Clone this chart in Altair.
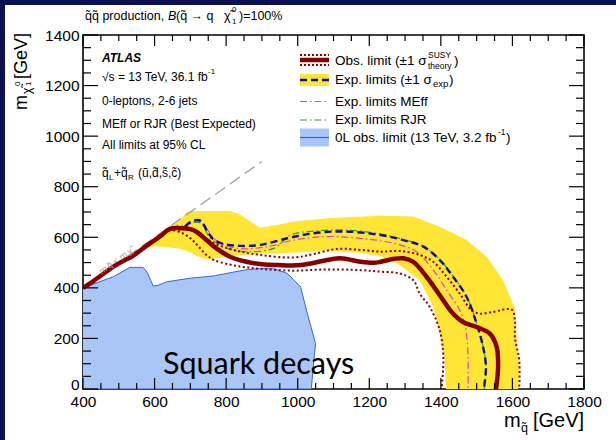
import altair as alt
import pandas as pd

# ---------------- data (m_squark, m_neutralino) in GeV ----------------
diag_x = [400, 430, 485, 520, 535, 578, 615]
diag_y = [400, 428, 484, 512, 522, 567, 603]

obs_x = [643, 672, 700, 719, 745, 773, 811, 857, 900, 943, 1008, 1083, 1120, 1176,
         1213, 1232, 1270, 1295, 1323, 1360, 1397, 1430, 1462, 1500, 1537, 1556, 1560, 1554]
obs_y = [633, 636, 632, 620, 589, 556, 523, 503, 493, 490, 490, 510, 517, 503,
         499, 503, 515, 517, 503, 444, 371, 305, 265, 245, 219, 166, 86, 0]

obs_up_x = [643, 680, 700, 728, 766, 821, 896, 989, 1045, 1110, 1176, 1232, 1285, 1341,
            1379, 1416, 1453, 1486, 1509, 1546, 1598, 1607, 1607, 1619, 1619]
obs_up_y = [636, 642, 636, 609, 576, 550, 530, 520, 534, 554, 550, 543, 546, 530,
            503, 444, 377, 311, 298, 305, 314, 272, 205, 113, 0]

obs_dn_x = [643, 672, 700, 719, 745, 766, 811, 850, 896, 989, 1083, 1176, 1232, 1285,
            1323, 1341, 1369, 1397, 1407, 1402]
obs_dn_y = [628, 620, 596, 570, 530, 510, 492, 482, 475, 468, 473, 470, 464, 457,
            430, 377, 324, 232, 126, 0]

exp_x = [643, 680, 700, 715, 730, 745, 764, 792, 840, 896, 971, 1045, 1129, 1232,
         1295, 1351, 1397, 1434, 1472, 1500, 1518, 1526, 1520]
exp_y = [636, 640, 660, 668, 664, 630, 592, 574, 566, 570, 596, 616, 623, 609,
         589, 563, 510, 444, 364, 258, 166, 86, 0]

meff_x = [643, 680, 700, 715, 730, 747, 775, 831, 915, 989, 1083, 1176, 1232, 1285,
          1332, 1379, 1416, 1453, 1470, 1476, 1476]
meff_y = [636, 640, 655, 663, 660, 630, 585, 556, 563, 589, 603, 596, 586, 570,
          543, 470, 391, 311, 232, 126, 0]

rjr_x = [643, 680, 700, 715, 730, 756, 803, 859, 933, 980, 1036, 1129, 1232, 1295,
         1351, 1397, 1434, 1472, 1500, 1518, 1526, 1521]
rjr_y = [636, 640, 655, 660, 655, 596, 556, 543, 556, 609, 623, 629, 613, 591,
         565, 512, 446, 366, 260, 168, 88, 0]

band_up_x = [560, 600, 640, 651, 670, 690, 708, 811, 838, 870, 894, 940, 989, 1083,
             1232, 1323, 1397, 1472, 1528, 1574, 1607, 1612, 1619, 1616]
band_up_y = [555, 598, 640, 648, 665, 700, 704, 704, 690, 660, 638, 648, 662, 675,
             685, 682, 642, 589, 523, 430, 318, 192, 86, 0]
band_dn_x = [1414, 1411, 1397, 1379, 1341, 1285, 1232, 1176, 1083, 1000, 900, 830,
             780, 745, 720, 700, 671, 643, 600, 560]
band_dn_y = [0, 113, 219, 324, 430, 490, 525, 538, 548, 540, 535, 528,
             518, 512, 525, 540, 555, 560, 565, 550]

old_x = [400, 485, 531, 568, 580, 596, 610, 634, 699, 764, 849, 894, 933, 971,
         1008, 1027, 1050, 1045, 1038, 400]
old_y = [400, 444, 481, 481, 460, 407, 410, 424, 438, 447, 470, 477, 477, 457,
         404, 298, 179, 113, 0, 0]

kin_x = [400, 900]
kin_y = [400, 900]

x_ticks_major = list(range(400, 1801, 200))
x_ticks_minor = [v for v in range(400, 1801, 50) if v % 200]
y_ticks_major = list(range(0, 1401, 200))
y_ticks_minor = [v for v in range(0, 1401, 50) if v % 200]

# ---------------- styling ----------------
FONT = "Liberation Sans"
W, H = 501, 354
NAVY = "#0c1050"
YELLOW = "#ffe535"
DARKRED = "#870000"
BLUE = "#10109a"
MAGENTA = "#e03ce0"
GREEN = "#2e9e2e"
LBLUE = "#aac6f6"
EDGEBLUE = "#3566d6"

xs = alt.Scale(domain=[400, 1800], nice=False, zero=False)
ys = alt.Scale(domain=[0, 1400], nice=False, zero=False)
AX_X = alt.Axis(values=x_ticks_major, format="d", ticks=False, domain=False, grid=False,
                labelFont=FONT, labelFontSize=15.5, labelColor="black",
                labelPadding=5, labelFlush=False, labelOverlap=False)
AX_Y = alt.Axis(values=y_ticks_major, format="d", ticks=False, domain=False, grid=False,
                labelFont=FONT, labelFontSize=15.5, labelColor="black",
                labelPadding=4, labelOverlap=False,
                labelOffset={"condition": {"test": "datum.value === 0", "value": -5},
                             "value": 0})


def X(field):
    return alt.X(field, scale=xs, title=None, axis=AX_X)


def Y(field):
    return alt.Y(field, scale=ys, title=None, axis=AX_Y)


def frame(xv, yv):
    return pd.DataFrame({"x": xv, "y": yv, "i": range(len(xv))})


def path(df, interp="catmull-rom", **mark):
    return alt.Chart(df).mark_line(interpolate=interp, clip=True, **mark).encode(
        x=X("x:Q"), y=Y("y:Q"), order="i:Q")


band = path(frame(band_up_x + band_dn_x, band_up_y + band_dn_y), interp="linear",
            fill=YELLOW, strokeOpacity=0)
old = path(frame(old_x, old_y), interp="linear", fill=LBLUE, stroke=EDGEBLUE,
           strokeWidth=1)
kin = path(frame(kin_x, kin_y), interp="linear", color="#9a9a9a",
           strokeWidth=1.2, strokeDash=[12, 6])
meff = path(frame(diag_x + meff_x, diag_y + meff_y), color=MAGENTA,
            strokeWidth=1.2, strokeDash=[7, 3, 1.5, 3])
rjr = path(frame(diag_x + rjr_x, diag_y + rjr_y), color=GREEN,
           strokeWidth=1.2, strokeDash=[7, 3, 1.5, 3])
expl = path(frame(diag_x + exp_x, diag_y + exp_y), color=BLUE,
            strokeWidth=2.4, strokeDash=[7, 4])
obs_up = path(frame(diag_x + obs_up_x, diag_y + obs_up_y), color=DARKRED,
              strokeWidth=2, strokeDash=[2, 2.5])
obs_dn = path(frame(diag_x + obs_dn_x, diag_y + obs_dn_y), color=DARKRED,
              strokeWidth=2, strokeDash=[2, 2.5])
obs = path(frame(diag_x + obs_x, diag_y + obs_y), color=DARKRED, strokeWidth=4.5)


# ---------------- inward tick marks on all four sides ----------------
def xticks(vals, length):
    d = pd.DataFrame({"v": vals})
    b = alt.Chart(d).mark_rule(color="black", strokeWidth=1.2).encode(
        x=X("v:Q"), y=alt.value(H), y2=alt.value(H - length))
    t = alt.Chart(d).mark_rule(color="black", strokeWidth=1.2).encode(
        x=X("v:Q"), y=alt.value(0), y2=alt.value(length))
    return [b, t]


def yticks(vals, length):
    d = pd.DataFrame({"v": vals})
    l = alt.Chart(d).mark_rule(color="black", strokeWidth=1.2).encode(
        y=Y("v:Q"), x=alt.value(0), x2=alt.value(length))
    r = alt.Chart(d).mark_rule(color="black", strokeWidth=1.2).encode(
        y=Y("v:Q"), x=alt.value(W), x2=alt.value(W - length))
    return [l, r]


ticks = (xticks(x_ticks_major, 11) + xticks(x_ticks_minor, 6)
         + yticks(y_ticks_major, 15) + yticks(y_ticks_minor, 8))


# ---------------- text helpers (positions in plot pixels) ----------------
def txt(s, x, y, size=12, color="black", font=FONT, align="left",
        baseline="middle", **kw):
    return alt.Chart(pd.DataFrame({"t": [s]})).mark_text(
        align=align, baseline=baseline, fontSize=size, font=font, color=color, **kw
    ).encode(x=alt.value(x), y=alt.value(y), text="t:N")


def hrule(x1, x2, y, **kw):
    return alt.Chart(pd.DataFrame({"a": [0]})).mark_rule(**kw).encode(
        x=alt.value(x1), x2=alt.value(x2), y=alt.value(y))


def box(x1, x2, y1, y2, color):
    return alt.Chart(pd.DataFrame({"a": [0]})).mark_rect(color=color).encode(
        x=alt.value(x1), x2=alt.value(x2), y=alt.value(y1), y2=alt.value(y2))


texts = [
    # header above the frame
    txt("q\u0303q\u0303 production,", 2, -19, size=12.5),
    txt("B", 85, -19, size=12.5, fontStyle="italic"),
    txt("(q\u0303 \u2192 q", 93, -19, size=12.5),
    txt("\u03c7\u0303", 141, -19, size=12.5),
    txt("0", 149, -25, size=8),
    txt("1", 149, -13, size=8),
    txt(")=100%", 156, -19, size=12.5),
    # analysis labels
    txt("ATLAS", 19, 22.5, fontWeight="bold", fontStyle="italic"),
    txt("\u221as = 13 TeV, 36.1 fb", 19, 41.5),
    txt("-1", 125, 37, size=8),
    txt("0-leptons, 2-6 jets", 19, 66),
    txt("MEff or RJR (Best Expected)", 19, 89),
    txt("All limits at 95% CL", 19, 110),
    txt("q\u0303", 19, 138),
    txt("L", 26, 143, size=8),
    txt("+q\u0303", 31, 138),
    txt("R", 45, 143, size=8),
    txt("(u\u0303,d\u0303,s\u0303,c\u0303)", 55, 138),
    txt("m\u2009q\u0303 < m\u2009\u03c7\u0303", 17, 237, size=9, color="#a0a0a0",
        angle=325),
    # big annotation
    txt("Squark decays", 80, 330, size=30.5, font="Lato"),
    # axis titles
    txt("m", 421, 392, size=20, baseline="alphabetic"),
    txt("q\u0303", 438, 397, size=12.5, baseline="alphabetic"),
    txt("[GeV]", 450, 392, size=20, baseline="alphabetic"),
    txt("m", -56, 75, size=18, baseline="alphabetic", angle=270),
    txt("\u03c7\u0303", -52, 59, size=12, baseline="alphabetic", angle=270),
    txt("0", -63, 51, size=8, baseline="alphabetic", angle=270),
    txt("1", -52, 51, size=8, baseline="alphabetic", angle=270),
    txt("[GeV]", -56, 44, size=18, baseline="alphabetic", angle=270),
]

# ---------------- hand-built legend ----------------
LX1, LX2, LT = 217, 246, 252
legend = [
    hrule(LX1, LX2, 20, color=DARKRED, strokeWidth=2, strokeDash=[2, 2]),
    hrule(LX1, LX2, 30, color=DARKRED, strokeWidth=2, strokeDash=[2, 2]),
    hrule(LX1, LX2, 25, color=DARKRED, strokeWidth=4.5),
    txt("Obs. limit (\u00b11 \u03c3", LT, 26, size=13.5),
    txt("SUSY", 345, 20, size=8.5),
    txt("theory", 345, 31, size=8.5),
    txt(")", 371, 26, size=13.5),
    box(LX1, LX2, 39, 51, YELLOW),
    hrule(LX1, LX2, 45, color=BLUE, strokeWidth=2.4, strokeDash=[7, 4]),
    txt("Exp. limits (\u00b11 \u03c3", LT, 45, size=13.5),
    txt("exp", 350, 49, size=9.5),
    txt(")", 366, 45, size=13.5),
    hrule(LX1, LX2, 66.5, color=MAGENTA, strokeWidth=1.2, strokeDash=[7, 3, 1.5, 3]),
    txt("Exp. limits MEff", LT, 66.5, size=13.5),
    hrule(LX1, LX2, 85, color=GREEN, strokeWidth=1.2, strokeDash=[7, 3, 1.5, 3]),
    txt("Exp. limits RJR", LT, 85, size=13.5),
    box(LX1, LX2, 93.5, 111.5, LBLUE),
    hrule(LX1, LX2, 102.5, color=EDGEBLUE, strokeWidth=1.2),
    txt("0L obs. limit (13 TeV, 3.2 fb", LT, 102.5, size=13.5),
    txt("-1", 415, 97, size=8.5),
    txt(")", 423, 102.5, size=13.5),
]

# navy slide border strips on the left and top edges
border = [box(-83, -78, -35, H + 51, NAVY), box(-83, W + 32, -35, -30, NAVY)]

chart = alt.layer(
    band, old, kin, meff, rjr, expl, obs_up, obs_dn, obs,
    *ticks, *texts, *legend, *border
).properties(
    width=W, height=H,
    padding={"left": 83, "top": 35, "right": 32, "bottom": 51},
    autosize=alt.AutoSizeParams(type="none"),
    background="white",
).configure_view(stroke="black", strokeWidth=1.6)

chart.save("out.html", embed_options={"renderer": "svg", "actions": False})
